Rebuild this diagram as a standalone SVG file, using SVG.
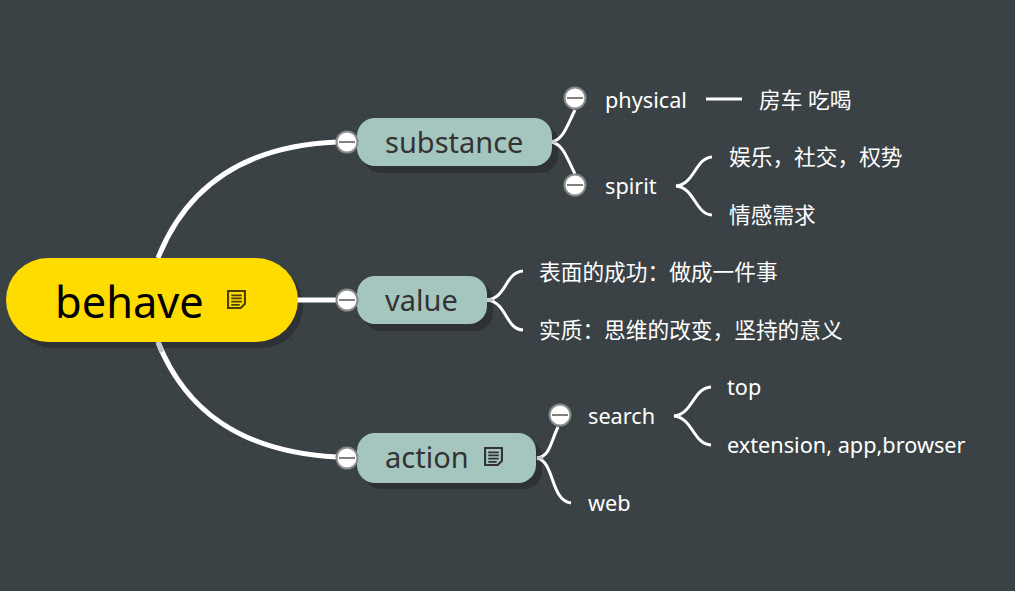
<svg xmlns="http://www.w3.org/2000/svg" width="1015" height="591" viewBox="0 0 1015 591">
<style>
text{font-family:"Noto Sans","Noto Sans CJK SC",sans-serif;fill:#fff;font-size:21.7px}
.s{fill:#2e3236}
.l{fill:none;stroke:#fff;stroke-width:3;stroke-linecap:butt}
.j{fill:none;stroke:#c8c8c8;stroke-width:3.5}
.m{fill:none;stroke:#fff;stroke-width:5}
.g{fill:none;stroke:#c8c8c8;stroke-width:5}
.t{fill:#a5c6bf}
.n{font-size:29px;fill:#333}
.c circle{fill:#fff;stroke:#8a8a8a;stroke-width:2}
.c line{stroke:#808080;stroke-width:2}
</style>
<defs>
<pattern id="dots" width="8" height="8" patternUnits="userSpaceOnUse"><rect width="8" height="8" fill="#3b4246"/><rect x="3" y="3" width="2" height="2" fill="#353b3f"/></pattern>
<symbol id="note" viewBox="0 0 18 18"><path d="M1 1H17V13L13 17H1Z" fill="none" stroke="currentColor" stroke-width="2"/><path d="M4 5H14M4 8H14M4 11H14M4 14H12" stroke="currentColor" stroke-width="1.7"/></symbol>
<g id="col" class="c"><circle r="10.5"/><line x1="-8" x2="8"/></g>
</defs>
<rect width="1015" height="591" fill="url(#dots)"/>
<g id="shadows">
<rect class="s" x="11" y="264" width="292" height="84" rx="42"/>
<rect class="s" x="363" y="124" width="195" height="49" rx="18"/>
<rect class="s" x="363" y="282" width="130" height="49" rx="18"/>
<rect class="s" x="363" y="439" width="179" height="50" rx="18"/>
</g>
<g id="connectors">
<path class="m" d="M158 258C185 190 240 146 337 142"/>
<path class="m" d="M158 342C185 410 240 452 337 457"/>
<path class="g" d="M158 342L162 352"/>
<path class="m" d="M296 300H337"/>
<path class="l" d="M551 142C563 140 566 128 575 110"/>
<path class="l" d="M551 142C563 144 566 156 575 174"/>
<path class="j" d="M551 142H556"/>
<path class="l" d="M706 99H742"/>
<path class="l" d="M676 186C695 184 695 158 712 157"/>
<path class="l" d="M676 186C695 188 695 214 712 215"/>
<path class="l" d="M487 300C507 298 505 272 523 271"/>
<path class="l" d="M487 300C507 302 505 329 523 330"/>
<path class="j" d="M487 300H493"/>
<path class="l" d="M537 458C550 456 550 444 558 427"/>
<path class="l" d="M537 458C555 462 550 500 571 503"/>
<path class="j" d="M537 458H543"/>
<path class="l" d="M674 416C693 414 693 388 711 387"/>
<path class="l" d="M674 416C693 418 693 444 711 445"/>
</g>
<g id="behave"><rect x="6" y="258" width="292" height="84" rx="42" fill="#ffdc00"/><text x="55" y="318" style="font-size:43.4px;fill:#000">behave</text><use href="#note" x="227" y="290" width="19" height="19" color="#4a4000"/></g>
<g id="substance"><rect class="t" x="357" y="118" width="195" height="48" rx="18"/><text class="n" x="385" y="153">substance</text><use href="#col" x="347" y="142"/></g>
<g id="value"><rect class="t" x="357" y="276" width="130" height="48" rx="18"/><text class="n" x="385" y="311">value</text><use href="#col" x="347" y="300"/></g>
<g id="action"><rect class="t" x="357" y="433" width="179" height="50" rx="18"/><text class="n" x="385" y="468">action</text><use href="#note" x="484" y="447" width="19" height="19" color="#333"/><use href="#col" x="347" y="458"/></g>
<g id="physical"><use href="#col" x="575" y="98"/><text x="605" y="108">physical</text></g>
<g id="car"><text x="759" y="108">房车 吃喝</text></g>
<g id="spirit"><use href="#col" x="575" y="185"/><text x="605" y="194">spirit</text></g>
<g id="fun"><text x="729" y="165">娱乐，社交，权势</text></g>
<g id="emotion"><text x="729" y="223">情感需求</text></g>
<g id="surface"><text x="539" y="280">表面的成功：做成一件事</text></g>
<g id="essence"><text x="539" y="338">实质：思维的改变，坚持的意义</text></g>
<g id="search"><use href="#col" x="560" y="415"/><text x="588" y="424">search</text></g>
<g id="top"><text x="727" y="395">top</text></g>
<g id="ext"><text x="727" y="453">extension, app,browser</text></g>
<g id="web"><text x="588" y="511">web</text></g>
</svg>
